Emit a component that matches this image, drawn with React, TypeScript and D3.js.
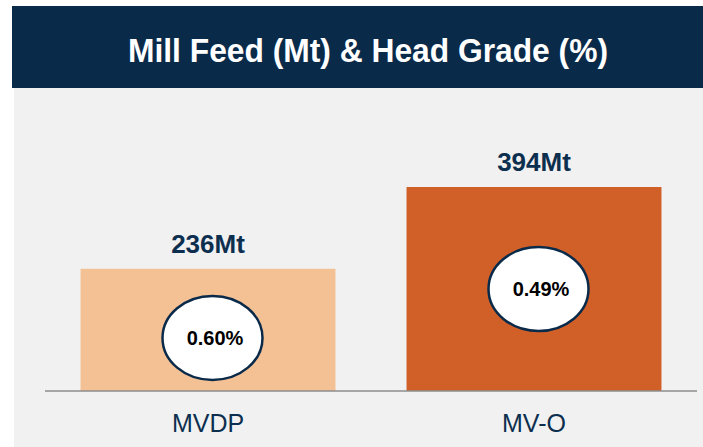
import React, { useEffect, useRef } from 'react';
import * as d3 from 'd3';

const categories = ['MVDP', 'MV-O'];
const millFeed = [236, 394];
const headGrade = [0.6, 0.49];
const barColors = ['#F4C195', '#D06028'];

const W = 703;
const H = 447;
const NAVY = '#0A2A4A';
const FONT = '"Liberation Sans", Arial, sans-serif';

const App = () => {
  const svgRef = useRef<SVGSVGElement>(null);

  useEffect(() => {
    const svg = d3.select(svgRef.current);
    svg.selectAll('*').remove();

    // header + panel
    svg.append('rect').attr('x', 12).attr('y', 6).attr('width', W - 12).attr('height', 82).attr('fill', NAVY);
    svg.append('rect').attr('x', 14).attr('y', 88).attr('width', W - 14).attr('height', H - 88).attr('fill', '#F1F1F1');
    svg.append('text')
      .attr('x', 368).attr('y', 62)
      .attr('text-anchor', 'middle')
      .attr('fill', 'white')
      .attr('textLength', 480)
      .attr('lengthAdjust', 'spacingAndGlyphs')
      .style('font-family', FONT)
      .style('font-weight', 'bold')
      .style('font-size', '34px')
      .text('Mill Feed (Mt) & Head Grade (%)');

    const x = d3.scaleBand()
      .domain(categories)
      .range([45, 697])
      .paddingInner(0.218)
      .paddingOuter(0.109);

    const y = d3.scaleLinear()
      .domain([0, 394])
      .range([391, 187]);

    const rows = categories.map((c, i) => ({ c, v: millFeed[i], g: headGrade[i], col: barColors[i] }));
    const cx = d => x(d.c) + x.bandwidth() / 2;

    const g = svg.append('g');

    g.selectAll('.bar')
      .data(rows)
      .enter().append('rect')
      .attr('class', 'bar')
      .attr('x', d => x(d.c))
      .attr('y', d => y(d.v))
      .attr('width', x.bandwidth())
      .attr('height', d => y(0) - y(d.v))
      .attr('fill', d => d.col);

    // baseline
    g.append('line')
      .attr('x1', 45).attr('x2', 697)
      .attr('y1', y(0)).attr('y2', y(0))
      .attr('stroke', '#8C8C8C')
      .attr('stroke-width', 1.5);

    // value labels
    g.selectAll('.val')
      .data(rows)
      .enter().append('text')
      .attr('x', cx)
      .attr('y', d => y(d.v) - 16)
      .attr('text-anchor', 'middle')
      .attr('fill', '#0D2F4F')
      .style('font-family', FONT)
      .style('font-weight', 'bold')
      .style('font-size', '26px')
      .text(d => `${d.v}Mt`);

    // grade bubbles
    const mid = d => (y(d.v) + y(0)) / 2 + (d.v < 300 ? 8 : 0);
    g.selectAll('.bubble')
      .data(rows)
      .enter().append('ellipse')
      .attr('cx', d => cx(d) + 4.5)
      .attr('cy', mid)
      .attr('rx', 50)
      .attr('ry', 42)
      .attr('fill', 'white')
      .attr('stroke', NAVY)
      .attr('stroke-width', 2.5);

    g.selectAll('.grade')
      .data(rows)
      .enter().append('text')
      .attr('x', d => cx(d) + 7)
      .attr('y', d => mid(d) + 7)
      .attr('text-anchor', 'middle')
      .attr('fill', 'black')
      .style('font-family', FONT)
      .style('font-weight', 'bold')
      .style('font-size', '20px')
      .text(d => `${d.g.toFixed(2)}%`);

    // category axis
    const axis = g.append('g')
      .attr('transform', `translate(0,${y(0)})`)
      .call(d3.axisBottom(x).tickSize(0).tickPadding(23));
    axis.select('.domain').remove();
    axis.selectAll('text')
      .attr('fill', '#0D2F4F')
      .style('font-family', FONT)
      .style('font-size', '25px');
  }, []);

  return (
    <svg ref={svgRef} width={W} height={H} style={{ position: 'absolute', left: 0, top: 0, background: 'white' }}></svg>
  );
};

export default App;
